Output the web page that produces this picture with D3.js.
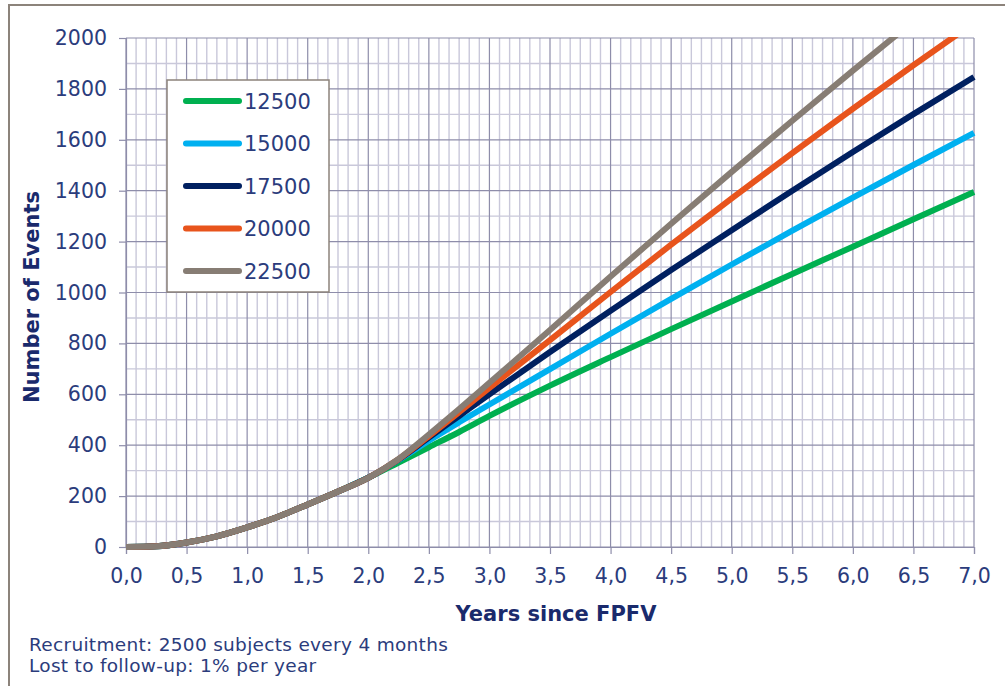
<!DOCTYPE html>
<html>
<head>
<meta charset="utf-8">
<script src="https://cdn.jsdelivr.net/npm/d3@7"></script>
<style>
  html, body { margin: 0; padding: 0; background: #ffffff; }
  svg { display: block; }
  text { font-family: "DejaVu Sans", Verdana, sans-serif; }
</style>
</head>
<body>
<svg id="chart" width="1005" height="686"></svg>
<script>
// ---------- DATA ----------
const years = [0, 0.25, 0.5, 0.75, 1.0, 1.25, 1.5, 1.75, 2.0, 2.25, 2.5, 2.75, 3.0, 3.5, 4.0, 4.5, 5.0, 5.5, 6.0, 6.5, 7.0];
const seriesNames = ["12500", "15000", "17500", "20000", "22500"];
const events12500 = [0, 3, 18, 42, 77, 118, 167, 218, 272, 332, 392, 452, 515, 634, 746, 856, 965, 1073, 1180, 1288, 1395];
const events15000 = [0, 3, 18, 42, 77, 118, 167, 218, 272, 342, 418, 490, 560, 699, 838, 975, 1110, 1243, 1373, 1501, 1627];
const events17500 = [0, 3, 18, 42, 77, 118, 167, 218, 272, 344, 430, 515, 600, 766, 928, 1088, 1245, 1400, 1552, 1701, 1847];
const events20000 = [0, 3, 18, 42, 77, 118, 167, 218, 272, 345, 436, 530, 625, 813, 1002, 1188, 1370, 1548, 1722, 1893, 2060];
const events22500 = [0, 3, 18, 42, 77, 118, 167, 218, 272, 346, 442, 542, 645, 853, 1063, 1270, 1474, 1675, 1872, 2066, 2256];
const seriesColors = ["#00B050", "#00B0F0", "#002060", "#E8541C", "#877D74"];
const xTicks = [0, 0.5, 1, 1.5, 2, 2.5, 3, 3.5, 4, 4.5, 5, 5.5, 6, 6.5, 7];
const xTickLabels = ["0,0", "0,5", "1,0", "1,5", "2,0", "2,5", "3,0", "3,5", "4,0", "4,5", "5,0", "5,5", "6,0", "6,5", "7,0"];
const yTicks = [0, 200, 400, 600, 800, 1000, 1200, 1400, 1600, 1800, 2000];
const yTickLabels = ["0", "200", "400", "600", "800", "1000", "1200", "1400", "1600", "1800", "2000"];
const xTitle = "Years since FPFV";
const yTitle = "Number of Events";
const footnotes = ["Recruitment: 2500 subjects every 4 months", "Lost to follow-up: 1% per year"];

const allSeries = [events12500, events15000, events17500, events20000, events22500];

// ---------- LAYOUT ----------
const svg = d3.select("#chart");
const pL = 126, pR = 974, pT = 38, pB = 547;
const x = d3.scaleLinear().domain([0, 7]).range([pL, pR]);
const y = d3.scaleLinear().domain([0, 2000]).range([pB, pT]);
const textColor = "#2B3C7C";
const titleColor = "#1A2A6C";

// outer frame
svg.append("rect")
  .attr("x", 9).attr("y", 5).attr("width", 1010).attr("height", 700)
  .attr("fill", "#ffffff").attr("stroke", "#8C837B").attr("stroke-width", 2);

// grid
const grid = svg.append("g");
const minorX = d3.range(0, 85).map(i => i / 12).filter(v => Math.abs((v * 2) - Math.round(v * 2)) > 1e-6);
const minorY = d3.range(100, 2000, 200);
grid.selectAll("line.mx").data(minorX).join("line")
  .attr("x1", d => x(d)).attr("x2", d => x(d)).attr("y1", pT).attr("y2", pB)
  .attr("stroke", "#C9C8DA").attr("stroke-width", 1.4);
grid.selectAll("line.my").data(minorY).join("line")
  .attr("x1", pL).attr("x2", pR).attr("y1", d => y(d)).attr("y2", d => y(d))
  .attr("stroke", "#C9C8DA").attr("stroke-width", 1.4);
grid.selectAll("line.Mx").data(xTicks).join("line")
  .attr("x1", d => x(d)).attr("x2", d => x(d)).attr("y1", pT).attr("y2", pB)
  .attr("stroke", "#8E8DAA").attr("stroke-width", 1.2);
grid.selectAll("line.My").data(yTicks).join("line")
  .attr("x1", pL).attr("x2", pR).attr("y1", d => y(d)).attr("y2", d => y(d))
  .attr("stroke", "#8E8DAA").attr("stroke-width", 1.2);

// axes
const xAxis = d3.axisBottom(x).tickValues(xTicks).tickSize(7).tickPadding(14)
  .tickFormat((d, i) => xTickLabels[i]);
const yAxis = d3.axisLeft(y).tickValues(yTicks).tickSize(7).tickPadding(12)
  .tickFormat((d, i) => yTickLabels[i]);

const gx = svg.append("g").attr("transform", `translate(0,${pB})`).call(xAxis);
const gy = svg.append("g").attr("transform", `translate(${pL},0)`).call(yAxis);
[gx, gy].forEach(g => {
  g.select(".domain").attr("stroke", "#8E8DAA").attr("stroke-width", 1.2);
  g.selectAll(".tick line").attr("stroke", "#8E8DAA").attr("stroke-width", 1.2);
  g.selectAll(".tick text").attr("fill", textColor).attr("font-size", 20.5)
    .attr("font-family", "DejaVu Sans, Verdana, sans-serif");
});

// clip
svg.append("clipPath").attr("id", "plotclip").append("rect")
  .attr("x", pL).attr("y", pT - 1).attr("width", pR - pL + 4).attr("height", pB - pT + 4);

// lines
const line = d3.line().x(d => x(d[0])).y(d => y(d[1])).curve(d3.curveMonotoneX);
const lines = svg.append("g").attr("clip-path", "url(#plotclip)");
allSeries.forEach((vals, i) => {
  lines.append("path")
    .datum(years.map((t, j) => [t, vals[j]]))
    .attr("d", line)
    .attr("fill", "none")
    .attr("stroke", seriesColors[i])
    .attr("stroke-width", 6)
    .attr("stroke-linejoin", "round");
});

// axis titles
svg.append("text").attr("x", 556).attr("y", 621).attr("text-anchor", "middle")
  .attr("font-size", 21).attr("font-weight", "bold").attr("fill", titleColor).text(xTitle);
svg.append("text").attr("transform", "translate(39,297) rotate(-90)").attr("text-anchor", "middle")
  .attr("font-size", 21).attr("font-weight", "bold").attr("fill", titleColor).text(yTitle);

// legend
const lg = svg.append("g");
lg.append("rect").attr("x", 167).attr("y", 80).attr("width", 162).attr("height", 212)
  .attr("fill", "#ffffff").attr("stroke", "#8C837B").attr("stroke-width", 1.5);
const rowY = d3.scalePoint().domain(seriesNames).range([101, 271]);
seriesNames.forEach((name, i) => {
  lg.append("line").attr("x1", 186).attr("x2", 239).attr("y1", rowY(name)).attr("y2", rowY(name))
    .attr("stroke", seriesColors[i]).attr("stroke-width", 6).attr("stroke-linecap", "round");
  lg.append("text").attr("x", 244).attr("y", rowY(name)).attr("dy", "0.36em")
    .attr("font-size", 21).attr("fill", textColor).text(name);
});

// footnotes
footnotes.forEach((t, i) => {
  svg.append("text").attr("x", 29).attr("y", 651 + i * 21)
    .attr("font-size", 18.5).attr("letter-spacing", 0.3).attr("fill", textColor).text(t);
});
</script>
</body>
</html>
